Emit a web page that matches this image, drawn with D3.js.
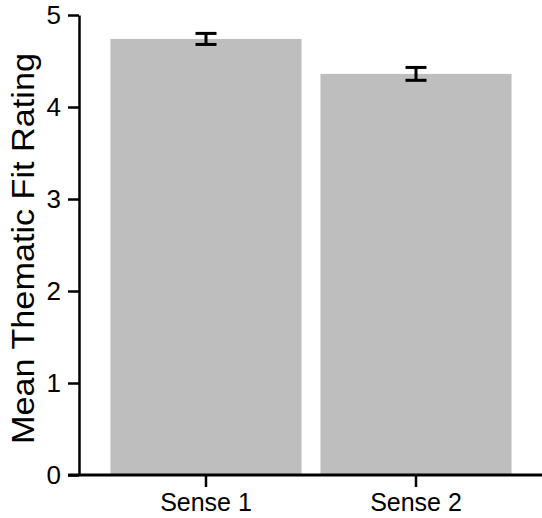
<!DOCTYPE html>
<html lang="en">
<head>
  <meta charset="UTF-8">
  <title>Mean Thematic Fit Rating</title>
  <script src="https://cdn.jsdelivr.net/npm/d3@7"></script>
  <style>
    body { margin: 0; background: #fff; }
    text { font-family: "Liberation Sans", Arial, sans-serif; fill: #000; }
  </style>
</head>
<body>
</body>
</html>
<script>
  let w = 542;
  let h = 518;

  // data
  let categories = ["Sense 1", "Sense 2"];
  let means = [4.74, 4.36];
  let errors = [0.06, 0.07];
  let yTicks = [0, 1, 2, 3, 4, 5];

  let svg = d3.select("body").append("svg").attr("width", w).attr("height", h)

  // scales
  let y = d3.scaleLinear().domain([0, 5]).range([475, 15])
  let x = d3.scaleBand().domain(categories).range([80, 542])
    .paddingInner(0.09).paddingOuter(0.145)

  // bars
  svg.selectAll("rect.bar")
    .data(categories)
    .enter()
    .append("rect")
    .attr("class", "bar")
    .attr("x", d => x(d))
    .attr("width", x.bandwidth())
    .attr("y", (d, i) => y(means[i]))
    .attr("height", (d, i) => y(0) - y(means[i]))
    .attr("fill", "#bebebe")

  // error bars
  let eb = svg.selectAll("g.err").data(categories).enter().append("g").attr("class", "err")
    .attr("stroke", "#000").attr("stroke-width", 3)
  eb.append("line")
    .attr("x1", d => x(d) + x.bandwidth() / 2).attr("x2", d => x(d) + x.bandwidth() / 2)
    .attr("y1", (d, i) => y(means[i] + errors[i])).attr("y2", (d, i) => y(means[i] - errors[i]))
  eb.append("line")
    .attr("x1", d => x(d) + x.bandwidth() / 2 - 10.5).attr("x2", d => x(d) + x.bandwidth() / 2 + 10.5)
    .attr("y1", (d, i) => y(means[i] + errors[i])).attr("y2", (d, i) => y(means[i] + errors[i]))
  eb.append("line")
    .attr("x1", d => x(d) + x.bandwidth() / 2 - 10.5).attr("x2", d => x(d) + x.bandwidth() / 2 + 10.5)
    .attr("y1", (d, i) => y(means[i] - errors[i])).attr("y2", (d, i) => y(means[i] - errors[i]))

  // y axis
  let yAxis = svg.append("g").attr("transform", "translate(79,0)")
    .call(d3.axisLeft(y).tickValues(yTicks).tickFormat(d3.format("d")).tickSize(11).tickSizeOuter(0).tickPadding(7))
  yAxis.select(".domain").attr("stroke-width", 2.5)
  yAxis.selectAll(".tick line").attr("stroke-width", 2.5)
  yAxis.selectAll(".tick text").attr("font-size", "26px").attr("fill", "#000")

  // x axis
  let xAxis = svg.append("g").attr("transform", "translate(0,475)")
    .call(d3.axisBottom(x).tickSize(12).tickSizeOuter(0).tickPadding(6))
  xAxis.select(".domain").attr("d", "M68,0H542").attr("stroke-width", 3)
  xAxis.selectAll(".tick line").attr("stroke-width", 2.5)
  xAxis.selectAll(".tick text").attr("font-size", "25px").attr("fill", "#000")

  // y title
  svg.append("text")
    .attr("transform", "translate(34," + (53 + 444) / 2 + ") rotate(-90)")
    .attr("text-anchor", "middle")
    .attr("font-size", "31px")
    .attr("textLength", 391)
    .attr("lengthAdjust", "spacingAndGlyphs")
    .text("Mean Thematic Fit Rating")
</script>
